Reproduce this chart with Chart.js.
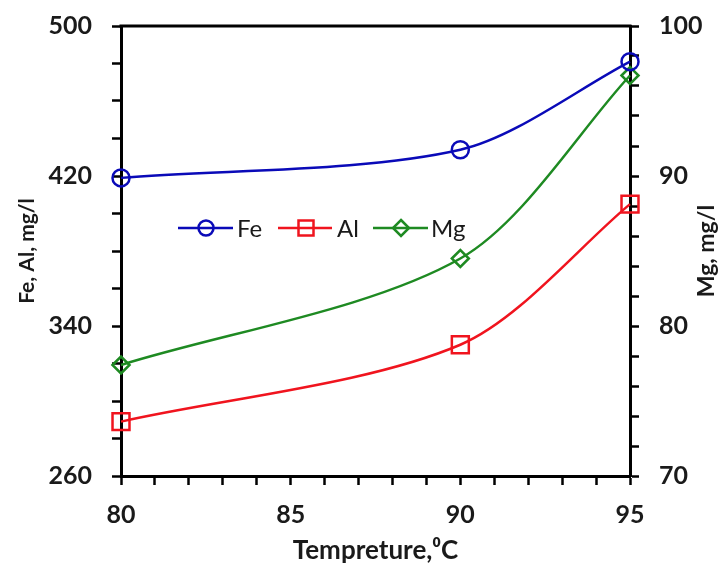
<!DOCTYPE html>
<html>
<head>
<meta charset="utf-8">
<script src="https://cdn.jsdelivr.net/npm/chart.js@4/dist/chart.umd.min.js"></script>
<style>
  html, body { margin: 0; padding: 0; background: #fff; }
  #wrap { width: 724px; height: 566px; }
</style>
</head>
<body>
<div id="wrap"><canvas id="chart" width="724" height="566"></canvas></div>
<script>
// values
const temps = [80, 90, 95];
const feValues = [419, 434, 481];
const alValues = [289, 330, 405];
const mgValues = [77.4, 84.5, 96.7];
const seriesNames = ['Fe', 'Al', 'Mg'];

const FONT = 'Lato, "Open Sans", sans-serif';
const colors = { Fe: '#0A0AB8', Al: '#F0141E', Mg: '#1E8A22' };

function points(values) {
    return temps.map((t, i) => ({ x: t, y: values[i] }));
}

function lineSet(label, values, style, radius, axis) {
    return {
        label: label,
        data: points(values),
        yAxisID: axis,
        borderColor: colors[label],
        backgroundColor: colors[label],
        borderWidth: 2.5,
        tension: 0.3,
        pointStyle: style,
        pointRadius: radius,
        pointBorderWidth: 2.5,
        pointBorderColor: colors[label],
        pointBackgroundColor: 'rgba(0,0,0,0)',
        clip: false
    };
}

function axisGrid() {
    return {
        display: true,
        drawOnChartArea: false,
        drawTicks: true,
        tickLength: 9,
        tickWidth: 2.5,
        tickColor: '#000'
    };
}

// fixed axis boxes so the plot area sits where it does in the picture
function fixWidth(w) {
    return s => { s.width = w; s.paddingTop = 0; s.paddingBottom = 0; };
}

// top frame line, in-plot legend and the right-hand axis title
const extras = {
    id: 'extras',
    afterDraw(chart) {
        const ctx = chart.ctx;
        const a = chart.chartArea;
        ctx.save();
        ctx.strokeStyle = '#000';
        ctx.lineWidth = 3;
        ctx.beginPath();
        ctx.moveTo(a.left - 1.5, a.top);
        ctx.lineTo(a.right + 1.5, a.top);
        ctx.stroke();

        // legend
        const ly = 228;
        const entries = [
            { name: seriesNames[0], x1: 178, x2: 233, mx: 206, tx: 237, shape: 'circle' },
            { name: seriesNames[1], x1: 278, x2: 332, mx: 306, tx: 337, shape: 'rect' },
            { name: seriesNames[2], x1: 373, x2: 428, mx: 401, tx: 431, shape: 'diamond' }
        ];
        entries.forEach(e => {
            const c = colors[e.name];
            ctx.strokeStyle = c;
            ctx.lineWidth = 2.5;
            ctx.beginPath();
            ctx.moveTo(e.x1, ly);
            ctx.lineTo(e.x2, ly);
            ctx.stroke();
            ctx.beginPath();
            if (e.shape === 'circle') {
                ctx.arc(e.mx, ly, 7.5, 0, Math.PI * 2);
            } else if (e.shape === 'rect') {
                ctx.rect(e.mx - 7.5, ly - 7.5, 15, 15);
            } else {
                ctx.moveTo(e.mx, ly - 8);
                ctx.lineTo(e.mx + 8, ly);
                ctx.lineTo(e.mx, ly + 8);
                ctx.lineTo(e.mx - 8, ly);
                ctx.closePath();
            }
            ctx.stroke();
            ctx.fillStyle = '#1a1a1a';
            ctx.font = '24px ' + FONT;
            ctx.textAlign = 'left';
            ctx.textBaseline = 'middle';
            ctx.fillText(e.name, e.tx, ly + 1);
        });

        // right title reads bottom to top
        ctx.translate(707, (a.top + a.bottom) / 2);
        ctx.rotate(-Math.PI / 2);
        ctx.fillStyle = '#1a1a1a';
        ctx.font = 'bold 23px ' + FONT;
        ctx.textAlign = 'center';
        ctx.textBaseline = 'middle';
        ctx.fillText('Mg, mg/l', 0, 0);
        ctx.restore();
    }
};

const tickFont = { family: FONT, size: 25, weight: 'bold' };

new Chart(document.getElementById('chart'), {
    type: 'line',
    data: {
        datasets: [
            lineSet('Fe', feValues, 'circle', 8.5, 'y'),
            lineSet('Al', alValues, 'rect', 12, 'y'),
            lineSet('Mg', mgValues, 'rectRot', 8.5, 'y1')
        ]
    },
    options: {
        responsive: false,
        animation: false,
        layout: { padding: { top: 26, left: 0, right: 0, bottom: 0 } },
        plugins: { legend: { display: false }, tooltip: { enabled: false } },
        scales: {
            x: {
                type: 'linear',
                min: 80,
                max: 95,
                afterFit: s => { s.height = 90; s.paddingLeft = 0; s.paddingRight = 0; },
                ticks: {
                    stepSize: 1,
                    autoSkip: false,
                    maxRotation: 0,
                    padding: 15,
                    color: '#1a1a1a',
                    font: tickFont,
                    callback: v => (v % 5 === 0 ? String(v) : '')
                },
                grid: axisGrid(),
                border: { display: true, width: 3, color: '#000' },
                title: {
                    display: true,
                    text: 'Tempreture,\u2070C',
                    color: '#1a1a1a',
                    font: { family: FONT, size: 26, weight: 'bold' },
                    padding: { top: 0, bottom: 0 }
                }
            },
            y: {
                position: 'left',
                min: 260,
                max: 500,
                afterFit: fixWidth(121),
                ticks: {
                    stepSize: 20,
                    autoSkip: false,
                    padding: 20,
                    color: '#1a1a1a',
                    font: tickFont,
                    callback: v => ((v - 260) % 80 === 0 ? String(v) : '')
                },
                grid: axisGrid(),
                border: { display: true, width: 3, color: '#000' },
                title: {
                    display: true,
                    text: 'Fe, Al, mg/l',
                    color: '#1a1a1a',
                    font: { family: FONT, size: 21, weight: 'bold' },
                    padding: { top: 15, bottom: 0 }
                }
            },
            y1: {
                position: 'right',
                min: 70,
                max: 100,
                afterFit: fixWidth(94),
                ticks: {
                    stepSize: 2,
                    autoSkip: false,
                    padding: 20,
                    color: '#1a1a1a',
                    font: tickFont,
                    callback: v => (v % 10 === 0 ? String(v) : '')
                },
                grid: axisGrid(),
                border: { display: true, width: 3, color: '#000' }
            }
        }
    },
    plugins: [extras]
});
</script>
</body>
</html>
